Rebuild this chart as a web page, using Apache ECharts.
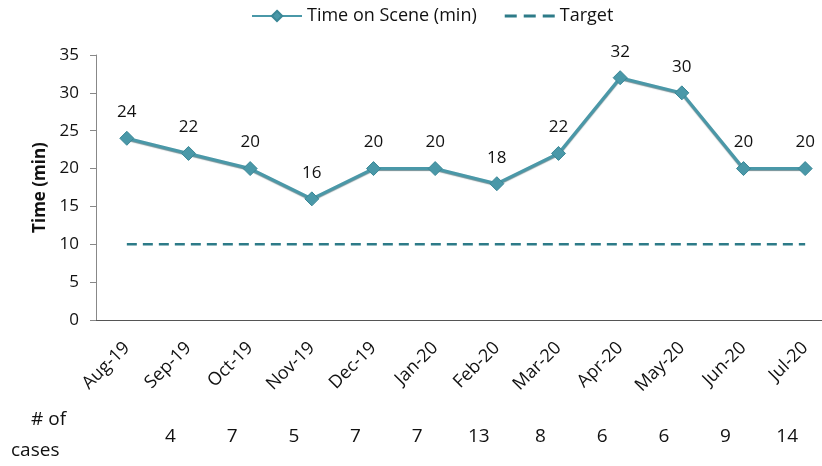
<!DOCTYPE html>
<html>
<head>
<meta charset="utf-8">
<script src="https://cdn.jsdelivr.net/npm/echarts@6/dist/echarts.min.js"></script>
<style>
  html, body { margin: 0; padding: 0; background: #fff; overflow: hidden; }
  #chart { width: 836px; height: 466px; }
</style>
</head>
<body>
<div id="chart"></div>
<script>
const months = ["Aug-19", "Sep-19", "Oct-19", "Nov-19", "Dec-19", "Jan-20",
  "Feb-20", "Mar-20", "Apr-20", "May-20", "Jun-20", "Jul-20"];
const timeOnScene = [24, 22, 20, 16, 20, 20, 18, 22, 32, 30, 20, 20];
const target = [10, 10, 10, 10, 10, 10, 10, 10, 10, 10, 10, 10];
const cases = ["", 4, 7, 5, 7, 7, 13, 8, 6, 6, 9, 14];

const font = "Open Sans";
const lineColor = "#4a98a8";
const targetColor = "#2d7b88";

// chart is a bit wider than the window: the last category runs off the right edge
const chart = echarts.init(document.getElementById("chart"));
chart.setOption({
  animation: false,
  textStyle: { fontFamily: font },
  legend: {
    top: 2,
    left: 246,
    itemWidth: 50,
    itemHeight: 13,
    itemGap: 28,
    textStyle: { fontSize: 18, color: "#111" },
    data: [
      { name: "Time on Scene (min)" },
      { name: "Target", icon: "path://M0,5h12v3h-12z M19,5h12v3h-12z M38,5h12v3h-12z" }
    ]
  },
  grid: { left: 96, right: 0, top: 55, bottom: 146 },
  xAxis: [
    {
      type: "category",
      data: months,
      boundaryGap: true,
      axisLine: { lineStyle: { color: "#555", width: 1 } },
      axisTick: { show: false },
      axisLabel: { rotate: 45, fontSize: 18, color: "#111", margin: 25, interval: 0 }
    },
    {
      type: "category",
      data: cases,
      position: "bottom",
      offset: 99,
      axisLine: { show: false },
      axisTick: { show: false },
      axisLabel: { fontSize: 19, color: "#111", interval: 0, padding: [0, 36, 0, 0] }
    }
  ],
  yAxis: {
    type: "value",
    min: 0,
    max: 35,
    interval: 5,
    name: "Time (min)",
    nameLocation: "middle",
    nameGap: 46,
    nameTextStyle: { fontSize: 17, fontWeight: "bold", color: "#111" },
    splitLine: { show: false },
    axisLine: { show: true, lineStyle: { color: "#888" } },
    axisTick: { show: true, length: 6, lineStyle: { color: "#888" } },
    axisLabel: { fontSize: 17, color: "#111", margin: 17 }
  },
  series: [
    {
      name: "Time on Scene (min)",
      type: "line",
      data: timeOnScene,
      symbol: "diamond",
      symbolSize: 14,
      lineStyle: { color: lineColor, width: 3, shadowColor: "rgba(20,70,80,0.6)", shadowOffsetY: 1, shadowBlur: 1 },
      itemStyle: { color: lineColor, borderColor: "#3a8796", borderWidth: 1 },
      label: { show: true, position: "top", distance: 10, fontSize: 17, color: "#111" },
      z: 3
    },
    {
      name: "Target",
      type: "line",
      data: target,
      symbol: "none",
      lineStyle: { color: targetColor, width: 2.5, type: [10, 6] },
      itemStyle: { color: targetColor },
      z: 2
    }
  ],
  graphic: [
    {
      type: "text",
      left: 31,
      top: 410,
      style: { text: "# of", fontSize: 19, fill: "#111", fontFamily: font }
    },
    {
      type: "text",
      left: 11,
      top: 441,
      style: { text: "cases", fontSize: 19, fill: "#111", fontFamily: font }
    }
  ]
});
</script>
</body>
</html>
